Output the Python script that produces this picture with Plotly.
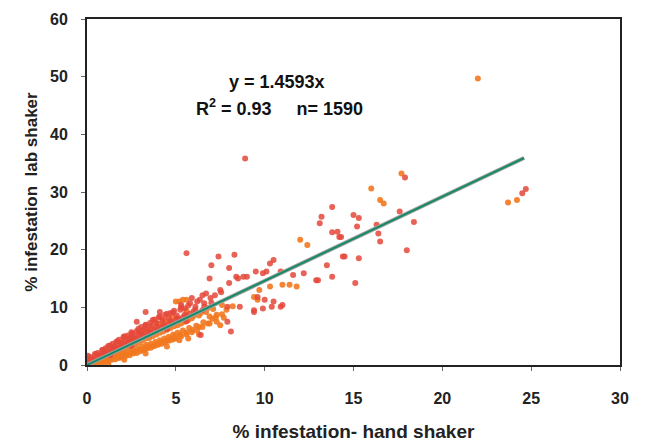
import plotly.graph_objects as go

# Hand-shaker vs lab-shaker infestation readings (%), two sampling groups
hand_red = [0.0, 0.05, 0.1, 0.0, 0.05, 0.2, 0.3, 0.45, 0.6, 0.7, 0.85, 0.95, 1.05, 1.2, 1.3, 1.45, 1.55,
            1.65, 1.8, 1.9, 2.05, 2.15, 2.3, 2.4, 2.55, 2.65, 2.8, 2.9, 3.05, 3.15, 3.3, 3.4, 3.55, 3.65,
            3.8, 3.9, 4.05, 4.25, 4.4, 4.6, 4.85, 5.05, 5.25, 5.5, 5.8, 6.1, 6.35, 6.6, 6.95, 7.2, 7.55,
            3.3, 4.1, 4.7, 5.3, 5.9, 6.5, 2.8, 6.4, 8.1,
            5.6, 7.4, 8.3, 7.0, 8.0, 8.4, 9.0, 9.5, 9.9, 10.3, 10.5, 6.9, 7.5, 6.7, 8.0, 8.5, 8.8,
            9.4, 9.6, 10.0, 10.4, 10.9, 9.4, 9.9, 11.0, 10.5, 8.6, 7.9, 6.5, 7.9, 10.1, 10.9, 11.6, 12.2,
            12.9, 13.8, 13.2, 13.1, 13.8, 14.2, 14.5, 13.5, 13.0, 13.8, 15.0, 15.2, 14.3, 16.3, 17.6,
            18.4, 16.4, 16.5, 18.0, 14.4, 15.3, 15.1, 14.1, 15.3, 8.9, 17.9, 24.5, 24.7,
            0.3, 0.5, 0.7, 0.9, 1.1, 1.3, 1.5, 1.7, 1.9, 2.1, 2.3, 2.5, 2.7, 2.9, 3.1, 3.3, 3.5, 3.7,
            3.9, 4.1, 4.3, 4.5, 4.7, 4.9, 5.1, 5.3, 5.5, 5.7, 6.0, 6.2,
            0.6, 1.0, 1.4, 1.8, 2.2, 2.6, 3.0, 3.4, 3.8, 4.2, 4.6, 5.0, 5.4, 5.8,
            0.4, 0.8, 1.2, 1.6, 2.0, 2.4, 2.8, 3.2, 3.6, 4.0, 4.4, 4.8, 5.2, 5.6, 6.1, 6.6, 7.0,
            0.2, 1.3, 2.5, 3.5, 4.5, 5.6]
lab_red = [0.0, 0.3, 0.6, 1.2, 1.6, 1.4, 0.9, 1.9, 2.1, 1.7, 2.6, 2.0, 2.9, 3.3, 2.7, 3.7, 3.2,
           4.0, 4.4, 3.8, 4.8, 4.2, 5.1, 4.7, 5.5, 5.0, 5.9, 5.4, 6.6, 6.0, 6.9, 6.3, 7.3, 6.8,
           7.9, 7.3, 8.3, 7.7, 8.7, 8.1, 9.1, 8.6, 9.6, 9.8, 10.7, 10.1, 11.3, 10.7, 11.6, 12.1, 12.6,
           9.2, 9.2, 9.0, 10.4, 11.6, 12.1, 7.5, 5.2, 5.8,
           19.4, 18.8, 19.1, 17.3, 16.8, 15.3, 15.3, 16.2, 15.9, 17.6, 18.2, 15.0, 13.0, 12.4, 14.2, 15.0, 15.3,
           9.2, 11.8, 11.3, 10.1, 10.1, 9.5, 9.8, 10.4, 11.0, 10.1, 10.1, 9.5, 7.5, 16.2, 16.2, 15.6, 15.9,
           14.7, 27.4, 25.7, 24.6, 23.0, 22.2, 18.8, 17.3, 14.7, 15.3, 26.0, 24.0, 22.2, 24.3, 26.6,
           24.8, 22.8, 21.4, 19.9, 18.8, 18.5, 14.2, 23.1, 25.5, 35.8, 32.5, 29.8, 30.5,
           1.1, 1.9, 1.5, 2.6, 2.0, 3.4, 2.7, 4.1, 3.3, 5.0, 3.9, 5.7, 4.6, 6.3, 5.2, 7.0, 5.9, 7.8,
           6.5, 8.4, 7.0, 8.9, 7.6, 9.4, 8.1, 10.0, 8.7, 10.3, 9.3, 11.0,
           1.2, 1.9, 2.4, 3.0, 3.6, 4.3, 4.9, 5.4, 6.0, 6.6, 7.1, 7.8, 8.3, 8.9,
           0.9, 1.6, 2.1, 2.9, 3.4, 4.0, 4.5, 5.1, 5.6, 6.3, 6.7, 7.3, 7.9, 8.5, 9.6, 10.1, 10.8,
           0.7, 1.7, 3.3, 5.3, 6.2, 7.6]

hand_orange = [0.15, 0.25, 0.4, 0.55, 0.75, 0.9, 1.0, 1.15, 1.25, 1.35, 1.5, 1.6, 1.75, 1.85, 1.95, 2.1,
               2.2, 2.35, 2.45, 2.6, 2.7, 2.85, 2.95, 3.1, 3.2, 3.35, 3.45, 3.6, 3.7, 3.85, 3.95, 4.1,
               4.2, 4.35, 4.45, 4.6, 4.7, 4.85, 4.95, 5.1, 5.25, 5.4, 5.6, 5.75, 5.95, 6.15, 6.3, 6.55,
               6.8, 7.05, 7.25, 7.6, 7.85, 8.2, 1.4, 2.5, 3.0, 3.6, 4.0, 4.3,
               12.0, 12.4, 11.4, 11.8, 11.0, 17.7, 16.0, 16.5, 16.7, 23.7, 24.2, 5.2, 5.6, 5.0, 5.4,
               4.9, 5.2, 6.9, 7.3, 22.0, 9.7, 10.3, 9.4, 9.6,
               0.4, 0.6, 0.8, 1.0, 1.2, 1.4, 1.6, 1.8, 2.0, 2.2, 2.4, 2.6, 2.8, 3.0, 3.2, 3.4, 3.6, 3.8,
               4.0, 4.2, 4.4, 4.6, 4.8, 5.0, 5.3, 5.6, 5.9, 6.2, 6.5, 6.9, 7.3, 7.7,
               0.7, 1.1, 1.5, 1.9, 2.3, 2.7, 3.1, 3.5, 3.9, 4.3, 4.7, 5.1, 5.5, 5.9, 6.3, 6.7, 7.1, 7.6,
               0.5, 0.9, 1.3, 1.7, 2.1, 2.5, 2.9, 3.3, 3.7, 4.1, 4.5, 4.9, 5.3, 5.7, 6.0, 6.4, 6.8,
               1.6, 2.4, 3.2, 4.0, 4.8, 5.6, 1.0, 2.0, 3.0, 4.4,
               1.2, 2.1, 3.3, 4.5, 5.7, 6.3, 7.5]
lab_orange = [0.1, 0.3, 0.35, 0.7, 0.6, 1.0, 0.8, 1.3, 1.0, 1.5, 1.2, 1.6, 1.4, 1.9, 1.5, 2.1,
              1.8, 2.4, 2.1, 2.6, 2.3, 2.9, 2.6, 3.2, 2.8, 3.5, 3.1, 3.7, 3.3, 4.0, 3.6, 4.3,
              4.0, 4.6, 4.2, 4.9, 4.5, 5.3, 4.9, 5.6, 5.3, 6.0, 5.6, 6.4, 6.1, 6.8, 6.6, 7.4,
              7.2, 8.0, 8.3, 8.8, 9.6, 10.2, 2.4, 4.6, 5.6, 6.3, 7.2, 7.9,
              21.7, 20.8, 13.9, 13.6, 13.9, 33.2, 30.6, 28.6, 28.0, 28.2, 28.6, 11.0, 11.3, 11.0, 11.3,
              4.6, 4.3, 8.4, 8.7, 49.7, 13.0, 13.6, 11.8, 11.3,
              0.0, 0.2, 0.3, 0.5, 0.6, 0.9, 1.0, 1.2, 1.3, 1.6, 1.7, 2.0, 2.1, 2.4, 2.6, 2.9, 3.0, 3.3,
              3.5, 3.7, 3.9, 4.2, 4.4, 4.6, 5.0, 5.3, 5.7, 6.0, 6.6, 7.2, 7.5, 8.2,
              0.9, 1.5, 2.0, 2.5, 3.1, 3.6, 4.2, 4.7, 5.3, 5.8, 6.4, 6.9, 7.5, 8.1, 8.6, 9.2, 9.7, 10.4,
              0.7, 1.2, 1.9, 2.3, 2.8, 3.5, 3.9, 4.6, 5.0, 5.6, 6.1, 6.7, 7.2, 7.8, 8.5, 9.0, 9.9,
              3.1, 4.6, 6.1, 7.1, 8.3, 9.4, 2.4, 3.9, 5.6, 7.6,
              0.2, 0.9, 2.0, 3.2, 4.6, 5.3, 6.9]

slope = 1.4593
fit_x = [0.0, 24.6]
fit_y = [slope * v for v in fit_x]

x_ticks = [0, 5, 10, 15, 20, 25, 30]
y_ticks = [0, 10, 20, 30, 40, 50, 60]

fig = go.Figure()
fig.add_trace(go.Scatter(x=hand_orange, y=lab_orange, mode="markers",
                         marker=dict(color="#f2781f", size=6, opacity=0.9, line=dict(width=0))))
fig.add_trace(go.Scatter(x=hand_red, y=lab_red, mode="markers",
                         marker=dict(color="#e4483a", size=6, opacity=0.85, line=dict(width=0))))
# trend line through the origin: grey under-stroke with green line on top
fig.add_trace(go.Scatter(x=fit_x, y=fit_y, mode="lines",
                         line=dict(color="#a0a0a0", width=4)))
fig.add_trace(go.Scatter(x=fit_x, y=fit_y, mode="lines",
                         line=dict(color="#158a66", width=2)))

font_family = "Arial, Liberation Sans, sans-serif"
fig.update_layout(
    width=650, height=445,
    margin=dict(l=87, r=30, t=19, b=80),
    paper_bgcolor="white", plot_bgcolor="white",
    showlegend=False,
    font=dict(family=font_family, size=16, color="#222222"),
    xaxis=dict(range=[0, 30], tickvals=x_ticks, ticktext=[f"<b>{v}</b>" for v in x_ticks],
               showgrid=False, zeroline=False, showline=True, linecolor="#222222", linewidth=2,
               mirror=True, ticks="outside", ticklen=4, tickcolor="#666666",
               ticklabelstandoff=14, automargin=False,
               title=dict(text="<b>% infestation- hand shaker</b>", font=dict(size=19), standoff=18)),
    yaxis=dict(range=[0, 60], tickvals=y_ticks, ticktext=[f"<b>{v}</b>" for v in y_ticks],
               showgrid=False, zeroline=False, showline=True, linecolor="#222222", linewidth=2,
               mirror=True, ticks="outside", ticklen=4, tickcolor="#666666",
               ticklabelstandoff=10, automargin=False,
               title=dict(text="<b>% infestation  lab shaker</b>", font=dict(size=17), standoff=8)),
)

nb = "\u00a0"
fig.add_annotation(x=(277 - 87) / 533, y=(365 - 70) / 346, xref="paper", yref="paper",
                   showarrow=False, text=f"<b>y = {slope}x</b>",
                   font=dict(size=18, color="#111111"))
fig.add_annotation(x=(279 - 87) / 533, y=(365 - 94) / 346, xref="paper", yref="paper",
                   showarrow=False, text=f"<b>R<sup>2</sup> = 0.93{nb * 5}n= 1590</b>",
                   font=dict(size=18, color="#111111"))

fig.write_html("out.html")
